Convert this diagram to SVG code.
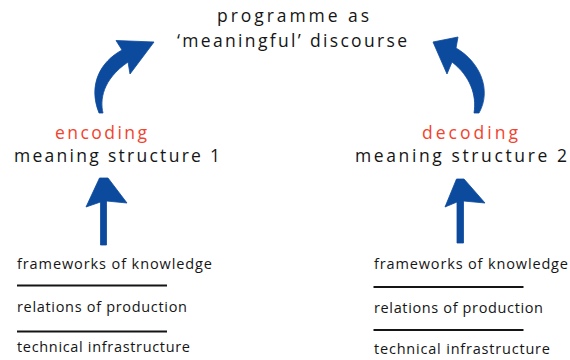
<svg xmlns="http://www.w3.org/2000/svg" width="570" height="360" viewBox="0 0 570 360">
  <style>
    .head { font-family: "Open Sans", Lato, "DejaVu Sans", sans-serif; font-size: 17.5px; fill: #151515; }
    .code { font-family: "Open Sans", Lato, "DejaVu Sans", sans-serif; font-size: 17.5px; fill: #f2432e; }
    .item { font-family: "Open Sans", Lato, "DejaVu Sans", sans-serif; font-size: 14.5px; fill: #151515; }
    .arrow { fill: #0c4a9e; stroke: #0c4a9e; stroke-width: 0.8; stroke-linejoin: round; }
    .rule { stroke: #151515; stroke-width: 1.8; }
  </style>
  <rect width="570" height="360" fill="#ffffff"/>

  <!-- central programme -->
  <g id="programme">
    <text class="head" x="217" y="21.5" textLength="152" lengthAdjust="spacing">programme as</text>
    <text class="head" x="177" y="46.5" textLength="230" lengthAdjust="spacing">‘meaningful’ discourse</text>
  </g>

  <!-- encoding side -->
  <g id="encoding">
    <text class="code" x="55" y="139" textLength="92" lengthAdjust="spacing">encoding</text>
    <text class="head" x="14" y="162" textLength="206" lengthAdjust="spacing">meaning structure 1</text>
  </g>

  <!-- decoding side -->
  <g id="decoding">
    <text class="code" x="422" y="139" textLength="96" lengthAdjust="spacing">decoding</text>
    <text class="head" x="355" y="162" textLength="212" lengthAdjust="spacing">meaning structure 2</text>
  </g>

  <!-- production base, left -->
  <g id="base-left">
    <text class="item" x="17" y="269" textLength="195" lengthAdjust="spacing">frameworks of knowledge</text>
    <line class="rule" x1="17" y1="285.5" x2="167" y2="285.5"/>
    <text class="item" x="17" y="312" textLength="170" lengthAdjust="spacing">relations of production</text>
    <line class="rule" x1="17" y1="331.5" x2="167" y2="331.5"/>
    <text class="item" x="17" y="352" textLength="173" lengthAdjust="spacing">technical infrastructure</text>
  </g>

  <!-- production base, right -->
  <g id="base-right">
    <text class="item" x="374" y="269" textLength="194" lengthAdjust="spacing">frameworks of knowledge</text>
    <line class="rule" x1="373.5" y1="287" x2="523.5" y2="287"/>
    <text class="item" x="374" y="312.5" textLength="169" lengthAdjust="spacing">relations of production</text>
    <line class="rule" x1="373.5" y1="330" x2="523.5" y2="330"/>
    <text class="item" x="374" y="353.5" textLength="176" lengthAdjust="spacing">technical infrastructure</text>
  </g>

  <!-- connectors: hand-drawn style block arrows -->
  <g id="connectors">
    <path class="arrow" d="M 103,113 C 100,100 102,80 128,62 L 130,74 L 154,42 L 116,40.5 L 122,50 C 100,62 88,85 99,113 Z"/>
    <path class="arrow" d="M 474,113 C 477,95 470,76 452,62 L 447,74 L 433,42 L 458,37 L 456,48 C 480,62 492,90 479,113 Z"/>
    <path class="arrow" d="M 100.5,245 L 100.5,202 L 86,207 L 99.5,178 L 108,178 L 127,203 L 106.5,201 L 106.5,245 Z"/>
    <path class="arrow" d="M 457,243 L 457,202 L 445,207 L 456.5,179 L 464,179 L 485,203 L 463.5,201 L 463.5,243 Z"/>
  </g>
</svg>
